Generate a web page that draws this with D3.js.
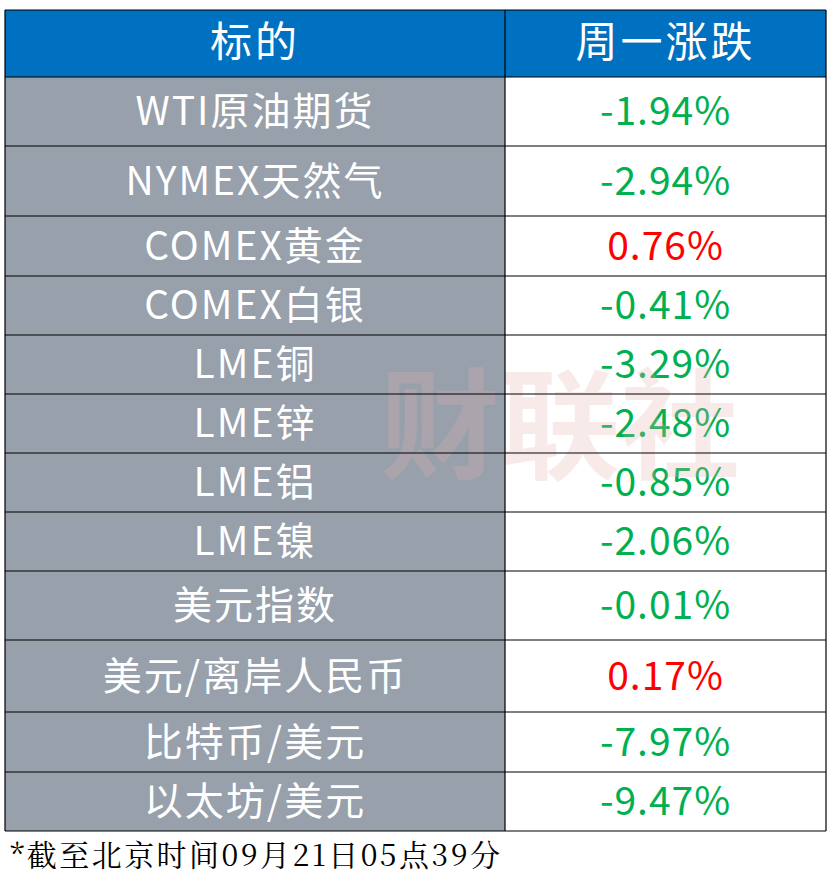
<!DOCTYPE html>
<html><head><meta charset="utf-8">
<script src="https://cdn.jsdelivr.net/npm/d3@7"></script>
<style>body{margin:0;background:#fff}</style>
</head><body>
<svg id="chart" width="832" height="878"></svg>
<script>
const headers = ['标的', '周一涨跌'];
const names = ['WTI原油期货','NYMEX天然气','COMEX黄金','COMEX白银','LME铜','LME锌','LME铝','LME镍','美元指数','美元/离岸人民币','比特币/美元','以太坊/美元'];
const changes = [-1.94,-2.94,0.76,-0.41,-3.29,-2.48,-0.85,-2.06,-0.01,0.17,-7.97,-9.47];
const rowEdges = [10,77,146,216,276,335,394,453,512,571,640,712,772,831];
const note = '*截至北京时间09月21日05点39分';

const svg = d3.select('#chart');
const x0 = 5, xm = 505, x1 = 826;
const font = '"Noto Sans CJK SC", sans-serif';

// header
svg.append('rect').attr('x', x0).attr('y', rowEdges[0]).attr('width', x1 - x0)
  .attr('height', rowEdges[1] - rowEdges[0]).attr('fill', '#0070c0');
[[x0, xm], [xm, x1]].forEach((c, i) => {
  svg.append('text').attr('x', (c[0] + c[1]) / 2).attr('y', (rowEdges[0] + rowEdges[1]) / 2 + 2)
    .attr('text-anchor', 'middle').attr('dominant-baseline', 'middle')
    .attr('font-family', font).attr('font-size', 42).attr('letter-spacing', 3).attr('fill', '#fff').text(headers[i]);
});

const rows = svg.selectAll('g.row').data(names).enter().append('g').attr('class', 'row');
rows.append('rect').attr('x', x0).attr('y', (d, i) => rowEdges[i + 1])
  .attr('width', xm - x0).attr('height', (d, i) => rowEdges[i + 2] - rowEdges[i + 1]).attr('fill', '#97a0ab');
rows.append('rect').attr('x', xm).attr('y', (d, i) => rowEdges[i + 1])
  .attr('width', x1 - xm).attr('height', (d, i) => rowEdges[i + 2] - rowEdges[i + 1]).attr('fill', '#fff');

// watermark
svg.append('text').attr('x', 560).attr('y', 470).attr('text-anchor', 'middle')
  .attr('font-family', font).attr('font-weight', 'bold').attr('font-size', 120)
  .attr('fill', '#e8b0b0').attr('opacity', 0.25).text('财联社');

rows.append('text').attr('x', (x0 + xm) / 2).attr('y', (d, i) => (rowEdges[i + 1] + rowEdges[i + 2]) / 2 + 3)
  .attr('text-anchor', 'middle').attr('dominant-baseline', 'middle')
  .attr('font-family', font).attr('font-size', 39).attr('letter-spacing', 2).attr('fill', '#fff').text(d => d);
rows.append('text').attr('x', (xm + x1) / 2).attr('y', (d, i) => (rowEdges[i + 1] + rowEdges[i + 2]) / 2 + 3)
  .attr('text-anchor', 'middle').attr('dominant-baseline', 'middle')
  .attr('font-family', font).attr('font-size', 39).attr('letter-spacing', 1)
  .attr('fill', (d, i) => changes[i] > 0 ? '#ff0000' : '#00b050')
  .text((d, i) => changes[i].toFixed(2) + '%');

// grid lines
rowEdges.forEach(y => svg.append('line').attr('x1', x0).attr('x2', x1).attr('y1', y).attr('y2', y)
  .attr('stroke', '#000').attr('stroke-width', 1.2));
[x0, xm, x1].forEach(x => svg.append('line').attr('x1', x).attr('x2', x)
  .attr('y1', rowEdges[0]).attr('y2', rowEdges[rowEdges.length - 1]).attr('stroke', '#000').attr('stroke-width', 1.2));

svg.append('text').attr('x', 10).attr('y', 866).attr('font-family', '"Noto Serif CJK SC", "Liberation Serif", serif')
  .attr('font-size', 30).attr('textLength', 490).attr('fill', '#000').text(note);
</script>
</body></html>
